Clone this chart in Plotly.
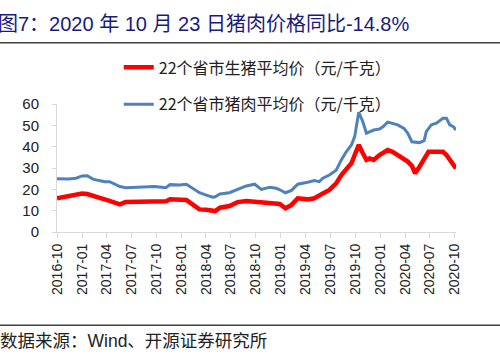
import plotly.graph_objects as go

dates = [
    "2016-10-01", "2016-11-10", "2016-12-10", "2017-01-01", "2017-01-20", "2017-02-10",
    "2017-03-05", "2017-03-25", "2017-04-12", "2017-04-30", "2017-05-20", "2017-06-10",
    "2017-07-12", "2017-08-18", "2017-09-25", "2017-10-20", "2017-11-05", "2017-11-20",
    "2017-12-25", "2018-01-19", "2018-02-13", "2018-03-08", "2018-04-02", "2018-04-26",
    "2018-05-05", "2018-05-22", "2018-06-26", "2018-07-26", "2018-08-27", "2018-09-27",
    "2018-10-21", "2018-11-21", "2018-12-15", "2018-12-28", "2019-01-18", "2019-02-09",
    "2019-03-04", "2019-04-09", "2019-05-04", "2019-05-22", "2019-06-04", "2019-06-28",
    "2019-07-23", "2019-08-11", "2019-08-29", "2019-09-17", "2019-09-29", "2019-10-14",
    "2019-10-29", "2019-11-11", "2019-11-23", "2019-12-08", "2019-12-29", "2020-01-12",
    "2020-01-28", "2020-02-15", "2020-03-05", "2020-03-28", "2020-04-11", "2020-04-26",
    "2020-05-08", "2020-05-24", "2020-06-10", "2020-06-18", "2020-06-26", "2020-07-06",
    "2020-07-25", "2020-08-18", "2020-08-31", "2020-09-12", "2020-09-25", "2020-10-05",
]

pork_price = [
    25.0, 24.8, 25.2, 26.3, 26.4, 24.8,
    24.1, 23.6, 23.6, 22.4, 21.3, 20.8,
    21.0, 21.3, 21.3, 21.0, 20.8, 22.2,
    22.0, 22.4, 20.5, 18.4, 17.3, 16.3,
    16.5, 17.8, 18.4, 20.0, 21.6, 22.4,
    20.0, 21.0, 20.5, 19.8, 18.4, 19.5,
    22.4, 23.3, 24.1, 23.6, 25.2, 26.7,
    29.0, 33.8, 37.6, 40.8, 44.7, 56.1,
    51.7, 46.3, 47.0, 47.8, 48.3, 49.4,
    51.5, 51.0, 50.2, 48.6, 46.3, 42.3,
    42.0, 41.9, 42.8, 47.0, 48.5, 50.2,
    51.0, 53.3, 53.3, 50.2, 49.4, 47.8,
]

hog_price = [
    15.8, 16.6, 17.3, 18.0, 17.8, 16.8,
    16.2, 15.3, 14.6, 14.0, 13.0, 14.1,
    14.2, 14.5, 14.5, 14.2, 14.4, 15.3,
    15.2, 15.0, 12.7, 10.6, 10.4, 10.2,
    9.8, 11.4, 12.2, 14.0, 14.5, 14.2,
    14.0, 13.4, 13.2, 13.1, 11.1, 12.7,
    15.8, 15.3, 15.8, 17.3, 18.1, 19.7,
    22.8, 26.7, 29.8, 32.2, 36.1, 40.8,
    36.9, 33.8, 34.5, 33.8, 36.1, 37.0,
    38.4, 37.6, 36.1, 34.2, 33.0, 31.0,
    27.5, 30.6, 33.8, 36.0, 37.6, 37.6,
    37.6, 37.6, 36.1, 34.0, 32.0, 29.8,
]

name_hog = "22个省市生猪平均价（元/千克）"
name_pork = "22个省市猪肉平均价（元/千克）"
title_text = "图7：2020 年 10 月 23 日猪肉价格同比-14.8%"
source_text = "数据来源：Wind、开源证券研究所"

FONT = "Liberation Sans, Arial, Noto Sans CJK SC, sans-serif"
CJK = "Noto Sans CJK SC, Liberation Sans, sans-serif"

PL, PW, PTOP, PBOT = 57.3, 398.7, 104.3, 231.7
PH = PBOT - PTOP


def px_x(v):
    return (v - PL) / PW


def px_y(v):
    return (PBOT - v) / PH


fig = go.Figure()
fig.add_trace(go.Scatter(x=dates, y=hog_price, mode="lines", name=name_hog,
                         legendgroup="a",
                         line=dict(color="#FF0000", width=4.5)))
fig.add_trace(go.Scatter(x=dates, y=pork_price, mode="lines", name=name_pork,
                         legendgroup="b",
                         line=dict(color="#4F81BD", width=3)))

fig.update_layout(
    width=500, height=356,
    margin=dict(l=57, r=44, t=104, b=124, pad=0, autoexpand=False),
    paper_bgcolor="white", plot_bgcolor="white",
    font=dict(family=FONT, size=14, color="#222222"),
    showlegend=True,
    legend=dict(x=px_x(119), xanchor="left", y=px_y(51), yanchor="top",
                bgcolor="rgba(0,0,0,0)", tracegroupgap=13,
                font=dict(family=CJK, size=16, color="#222222")),
    xaxis=dict(type="date", range=["2016-10-01", "2020-10-05"],
               tick0="2016-10-01", dtick="M3", tickformat="%Y-%m",
               tickangle=-90, ticks="outside", ticklen=5, tickcolor="#d9d9d9",
               showline=True, linecolor="#d9d9d9", linewidth=1,
               showgrid=False, zeroline=False, automargin=False,
               tickfont=dict(family=FONT, size=14, color="#222222")),
    yaxis=dict(range=[0, 60], dtick=10, ticks="outside", ticklen=4,
               tickcolor="#d9d9d9", showline=True, linecolor="#d9d9d9",
               linewidth=1, showgrid=False, zeroline=False, automargin=False,
               ticklabelstandoff=10,
               tickfont=dict(family=FONT, size=15, color="#222222")),
)

fig.add_annotation(text=title_text, xref="paper", yref="paper",
                   x=px_x(-4), xanchor="left", y=px_y(25), yanchor="middle",
                   showarrow=False,
                   font=dict(family=FONT, size=20, color="#1a1a80"))

fig.add_shape(type="line", xref="paper", yref="paper",
              x0=px_x(-5), x1=px_x(505), y0=px_y(43.3), y1=px_y(43.3),
              line=dict(color="#404040", width=1.5))
fig.add_shape(type="line", xref="paper", yref="paper",
              x0=px_x(-5), x1=px_x(505), y0=px_y(324.5), y1=px_y(324.5),
              line=dict(color="#404040", width=1.5))

fig.add_annotation(text=source_text, xref="paper", yref="paper",
                   x=px_x(-2), xanchor="left", y=px_y(340), yanchor="middle",
                   showarrow=False,
                   font=dict(family=FONT, size=17.5, color="#222222"))

fig.write_html("out.html",
               config={"displayModeBar": False},
               post_script="document.body.style.margin='0';"
                           "document.body.style.overflow='hidden';")
